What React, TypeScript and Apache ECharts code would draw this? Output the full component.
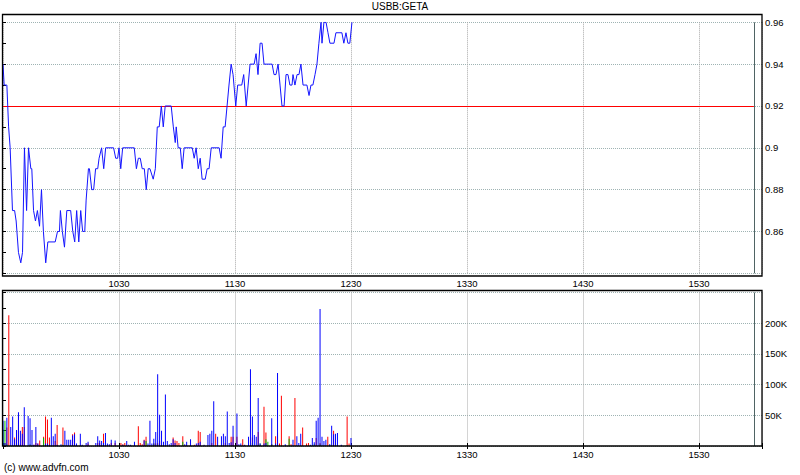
import React, { useEffect, useRef } from "react";
import * as echarts from "echarts";

const chartTitle = "USBB:GETA";
const copyright = "(c) www.advfn.com";

// price: minutes after 09:30, price
const priceMinutes = [
  0, 0.6, 2.0, 2.9, 3.7, 4.9, 6.0, 6.8, 8.0, 9.2, 10.1, 11.1, 12.2, 13.2, 14.4, 14.9, 15.8, 16.8, 17.8, 18.9,
  19.9, 20.9, 22.1, 23.2, 27.0, 28.2, 29.2, 29.7, 30.7, 31.8, 33.0, 35.0, 36.1, 37.1, 38.1, 39.2, 40.2, 41.2, 42.3, 43.0,
  44.2, 44.7, 45.9, 46.9, 47.9, 49.0, 49.7, 51.0, 52.1, 53.1, 57.2, 58.3, 59.3, 60.0, 60.9, 61.9, 67.9, 69.0, 70.0, 71.0,
  72.0, 73.1, 74.1, 75.1, 76.0, 77.7, 78.8, 79.8, 80.8, 81.9, 82.9, 83.9, 87.0, 88.1, 89.1, 89.6, 90.6, 91.7, 92.7, 93.7,
  97.9, 98.9, 99.9, 101.0, 102.0, 103.0, 104.6, 105.6, 106.6, 107.7, 111.8, 112.8, 113.9, 114.9, 115.9, 116.9, 118.0, 119.0, 120.4, 121.4,
  123.5, 124.5, 125.8, 126.8, 127.8, 129.9, 130.9, 131.9, 133.0, 134.0, 135.0, 139.2, 140.2, 141.2, 142.3, 143.3, 144.3, 145.4, 146.4, 147.4,
  148.4, 149.5, 150.0, 151.0, 152.1, 153.1, 154.1, 155.2, 157.2, 158.3, 159.3, 160.3, 161.4, 162.4, 163.4, 164.5, 165.0, 166.0, 167.1, 168.1,
  169.1, 171.2, 172.2, 175.3, 176.3, 177.4, 178.4, 179.4, 180.5,
];
const priceValues = [
  0.94, 0.93, 0.93, 0.91, 0.9, 0.87, 0.87, 0.865, 0.85, 0.845, 0.85, 0.9, 0.87, 0.9, 0.89, 0.89, 0.87, 0.865, 0.87, 0.8625,
  0.88, 0.86, 0.845, 0.855, 0.855, 0.86, 0.86, 0.87, 0.86, 0.8525, 0.87, 0.87, 0.86, 0.855, 0.87, 0.855, 0.87, 0.86, 0.86, 0.875,
  0.89, 0.89, 0.88, 0.88, 0.89, 0.89, 0.895, 0.9, 0.89, 0.9, 0.9, 0.895, 0.895, 0.9, 0.89, 0.9, 0.9, 0.89, 0.895, 0.895,
  0.89, 0.89, 0.88, 0.89, 0.89, 0.885, 0.89, 0.91, 0.91, 0.92, 0.91, 0.92, 0.92, 0.91, 0.9025, 0.91, 0.9, 0.9, 0.89, 0.9,
  0.9, 0.895, 0.9, 0.89, 0.895, 0.885, 0.885, 0.89, 0.89, 0.9, 0.9, 0.895, 0.91, 0.91, 0.92, 0.93, 0.94, 0.935, 0.92, 0.93,
  0.93, 0.935, 0.92, 0.93, 0.94, 0.94, 0.945, 0.935, 0.95, 0.95, 0.94, 0.94, 0.935, 0.935, 0.94, 0.93, 0.92, 0.92, 0.935, 0.935,
  0.93, 0.93, 0.935, 0.93, 0.935, 0.935, 0.94, 0.93, 0.93, 0.925, 0.93, 0.93, 0.935, 0.94, 0.95, 0.96, 0.95, 0.96, 0.96, 0.955,
  0.95, 0.95, 0.955, 0.955, 0.95, 0.955, 0.95, 0.95, 0.96,
];
const prevClose = 0.92;
const sessionEndMinute = 388.4;
const priceTickValues = [0.84, 0.86, 0.88, 0.9, 0.92, 0.94, 0.96];

// volume per minute (thousands): red / green / blue parts
const volMinutes = [
  0, 1, 2, 3, 4, 5, 6, 7, 8, 9, 10, 11, 13, 14, 15, 16, 17, 18, 19, 21, 22, 23, 24, 25, 26, 27, 28, 30, 31, 32,
  33, 34, 35, 36, 37, 38, 40, 41, 43, 44, 48, 49, 50, 51, 52, 53, 54, 55, 56, 58, 61, 62, 63, 64, 65, 66, 68, 70, 71, 72,
  73, 74, 75, 76, 77, 78, 79, 80, 81, 82, 83, 84, 85, 86, 87, 88, 89, 90, 91, 93, 94, 95, 97, 99, 100, 101, 102, 104, 106, 107,
  108, 109, 110, 111, 113, 114, 115, 116, 117, 118, 119, 121, 122, 123, 124, 125, 127, 128, 129, 130, 131, 132, 133, 135, 136, 137, 139, 141, 142, 143,
  144, 146, 148, 149, 150, 151, 152, 153, 154, 155, 157, 158, 159, 160, 161, 162, 163, 164, 165, 166, 167, 168, 169, 170, 171, 172, 173, 175, 178, 179,
  180,
];
const volRed = [
  0, 5, 30, 213, 0, 0, 14, 25, 49, 3, 31, 31, 0, 0, 0, 2, 5, 4, 9, 15, 48, 43, 14, 0, 0, 8, 34, 0, 30, 0,
  0, 0, 0, 19, 22, 0, 0, 0, 0, 4, 0, 5, 5, 0, 20, 0, 0, 0, 5, 5, 5, 3, 5, 0, 0, 0, 0, 32, 5, 3,
  10, 15, 0, 0, 0, 4, 4, 5, 8, 0, 0, 0, 0, 0, 0, 14, 9, 8, 5, 16, 0, 0, 0, 2, 0, 25, 23, 0, 0, 0,
  5, 0, 20, 0, 0, 0, 5, 0, 0, 15, 15, 15, 0, 0, 11, 0, 0, 0, 14, 0, 0, 23, 0, 64, 22, 0, 3, 16, 22, 4,
  82, 0, 16, 3, 0, 78, 0, 0, 0, 30, 4, 5, 0, 0, 0, 13, 0, 5, 0, 0, 0, 15, 0, 0, 25, 5, 0, 0, 48, 4,
  0,
];
const volGreen = [
  27, 41, 3, 0, 0, 0, 0, 5, 3, 0, 0, 0, 0, 3, 0, 0, 0, 0, 0, 13, 2, 2, 0, 0, 0, 0, 0, 0, 2, 0,
  0, 0, 0, 0, 0, 0, 0, 0, 0, 0, 0, 0, 0, 0, 0, 0, 0, 0, 0, 0, 0, 0, 0, 0, 0, 0, 0, 0, 0, 0,
  0, 8, 0, 0, 0, 4, 0, 3, 0, 0, 0, 0, 0, 0, 0, 0, 0, 0, 0, 7, 0, 0, 0, 0, 0, 0, 0, 0, 0, 0,
  0, 0, 0, 0, 0, 0, 0, 0, 0, 0, 0, 0, 0, 0, 0, 0, 0, 0, 5, 0, 0, 2, 4, 0, 11, 7, 3, 0, 3, 0,
  0, 0, 12, 0, 0, 0, 0, 0, 0, 0, 0, 0, 0, 0, 3, 0, 0, 3, 0, 0, 0, 0, 2, 0, 0, 5, 0, 0, 1, 0,
  0,
];
const volBlue = [
  41, 5, 46, 0, 31, 48, 11, 26, 55, 25, 20, 63, 49, 45, 26, 2, 31, 4, 0, 0, 4, 4, 2, 46, 16, 20, 2, 3, 1, 25,
  10, 10, 10, 17, 19, 4, 20, 2, 5, 7, 5, 16, 9, 8, 5, 21, 4, 3, 10, 9, 0, 2, 0, 8, 2, 2, 7, 0, 0, 0,
  9, 0, 4, 41, 4, 12, 23, 117, 51, 25, 7, 84, 8, 3, 5, 11, 5, 0, 0, 0, 3, 7, 11, 0, 4, 5, 7, 2, 18, 20,
  25, 73, 0, 15, 16, 20, 16, 56, 5, 6, 33, 53, 3, 4, 0, 2, 15, 125, 48, 18, 15, 78, 4, 4, 5, 0, 45, 4, 119, 0,
  0, 3, 0, 0, 10, 0, 16, 5, 20, 0, 0, 0, 2, 13, 6, 41, 46, 223, 15, 8, 10, 0, 3, 33, 19, 20, 21, 2, 0, 0,
  13,
];

const X_MAX = 392.6;
const FONT = "Liberation Sans, Arial, sans-serif";
const gridH = "#9fb3b3";
const gridV = "#a8a8a8";

function timeLabel(v: number): string {
  const r = Math.round(v / 60) * 60;
  if (Math.abs(v - r) > 0.01 || r <= 0) return "";
  const total = 9 * 60 + 30 + r;
  const h = Math.floor(total / 60);
  const m = total % 60;
  return `${h}${m < 10 ? "0" + m : m}`;
}

export default function App() {
  const ref = useRef<HTMLDivElement>(null);
  useEffect(() => {
    const chart = echarts.init(ref.current!, null, { renderer: "svg" });
    const pricePts = priceMinutes.map((m, i) => [m, priceValues[i]]);
    const mk = (arr: number[]) => volMinutes.map((m, i) => [m, arr[i] * 1000]);
    const labelStyle = { color: "#000", fontSize: 9.5, fontFamily: FONT };
    const xCommon = {
      type: "value" as const,
      min: 0,
      max: X_MAX,
      interval: 60,
      axisLine: { show: false },
      splitLine: { show: true, lineStyle: { color: gridV, width: 1, type: [1, 1] } },
    };
    chart.setOption({
      animation: false,
      textStyle: { fontFamily: FONT },
      title: {
        text: chartTitle,
        left: "center",
        top: 1,
        padding: 0,
        textStyle: { fontSize: 10, fontWeight: "normal", color: "#000", fontFamily: FONT },
      },
      grid: [
        { left: 3, right: 38, top: 22.3, height: 251 },
        { left: 3, right: 38, top: 292.5, height: 153.5 },
      ],
      xAxis: [
        {
          ...xCommon,
          gridIndex: 0,
          position: "bottom",
          axisLabel: { show: false },
          axisTick: { show: false },
        },
        {
          ...xCommon,
          gridIndex: 1,
          position: "bottom",
          axisTick: { show: true, length: 3, lineStyle: { color: "#000" } },
          axisLabel: { ...labelStyle, margin: 3, formatter: timeLabel },
        },
        {
          ...xCommon,
          gridIndex: 1,
          position: "top",
          splitLine: { show: false },
          axisTick: { show: true, length: 3, lineStyle: { color: "#000" } },
          axisLabel: { ...labelStyle, margin: 4, formatter: timeLabel },
        },
      ],
      yAxis: [
        {
          type: "value",
          gridIndex: 0,
          position: "right",
          min: priceTickValues[0],
          max: priceTickValues[priceTickValues.length - 1],
          interval: 0.02,
          axisLine: { show: false },
          axisTick: { show: true, length: 3, lineStyle: { color: "#000" } },
          minorTick: { show: true, splitNumber: 2, length: 3, lineStyle: { color: "#000" } },
          splitLine: { show: true, lineStyle: { color: gridH, width: 1, type: [1, 1] } },
          axisLabel: {
            ...labelStyle,
            margin: 3,
            formatter: (v: number) => (v < 0.845 ? "" : String(+v.toFixed(2))),
          },
        },
        {
          type: "value",
          gridIndex: 0,
          position: "left",
          min: priceTickValues[0],
          max: priceTickValues[priceTickValues.length - 1],
          interval: 0.01,
          axisLine: { show: false },
          axisTick: { show: true, inside: true, length: 3, lineStyle: { color: "#000" } },
          splitLine: { show: false },
          axisLabel: { show: false },
        },
        {
          type: "value",
          gridIndex: 1,
          position: "right",
          min: 0,
          max: 250000,
          interval: 50000,
          axisLine: { show: false },
          axisTick: { show: true, length: 3, lineStyle: { color: "#000" } },
          minorTick: { show: true, splitNumber: 2, length: 3, lineStyle: { color: "#000" } },
          splitLine: { show: true, lineStyle: { color: gridH, width: 1, type: [1, 1] } },
          axisLabel: {
            ...labelStyle,
            margin: 3,
            formatter: (v: number) => (v > 0 && v <= 200000 ? v / 1000 + "K" : ""),
          },
        },
        {
          type: "value",
          gridIndex: 1,
          position: "left",
          min: 0,
          max: 250000,
          interval: 25000,
          axisLine: { show: false },
          axisTick: { show: true, inside: true, length: 3, lineStyle: { color: "#000" } },
          splitLine: { show: false },
          axisLabel: { show: false },
        },
      ],
      series: [
        {
          type: "line",
          xAxisIndex: 0,
          yAxisIndex: 0,
          data: pricePts,
          showSymbol: false,
          symbol: "none",
          lineStyle: { color: "#1414ff", width: 1 },
          z: 5,
          markLine: {
            silent: true,
            symbol: ["none", "none"],
            label: { show: false },
            data: [
              [
                { coord: [0, prevClose], lineStyle: { color: "#ff0000", width: 1, type: "solid" } },
                { coord: [sessionEndMinute, prevClose] },
              ],
              { xAxis: sessionEndMinute, lineStyle: { color: "#4f6464", width: 1, type: "solid" } },
            ],
          },
        },
        {
          type: "bar",
          name: "red",
          xAxisIndex: 1,
          yAxisIndex: 2,
          stack: "vol",
          barWidth: 1,
          data: mk(volRed),
          itemStyle: { color: "#ff0000" },
          markLine: {
            silent: true,
            symbol: ["none", "none"],
            label: { show: false },
            data: [{ xAxis: sessionEndMinute, lineStyle: { color: "#4f6464", width: 1, type: "solid" } }],
          },
        },
        {
          type: "bar",
          name: "green",
          xAxisIndex: 1,
          yAxisIndex: 2,
          stack: "vol",
          barWidth: 1,
          data: mk(volGreen),
          itemStyle: { color: "#00c000" },
        },
        {
          type: "bar",
          name: "blue",
          xAxisIndex: 1,
          yAxisIndex: 2,
          stack: "vol",
          barWidth: 1,
          data: mk(volBlue),
          itemStyle: { color: "#0000ff" },
        },
      ],
      graphic: [
        {
          type: "rect",
          z: 100,
          silent: true,
          shape: { x: 2.5, y: 14.5, width: 759.5, height: 261.5 },
          style: { fill: "none", stroke: "#000", lineWidth: 1.3 },
        },
        {
          type: "rect",
          z: 100,
          silent: true,
          shape: { x: 2.5, y: 290.5, width: 759.5, height: 155.5 },
          style: { fill: "none", stroke: "#000", lineWidth: 1.3 },
        },
        {
          type: "text",
          left: 4,
          top: 462,
          style: { text: copyright, fontSize: 10, fill: "#000", fontFamily: FONT },
        },
      ],
    });
    return () => chart.dispose();
  }, []);
  return <div ref={ref} style={{ position: "absolute", left: 0, top: 0, width: 800, height: 475 }} />;
}
